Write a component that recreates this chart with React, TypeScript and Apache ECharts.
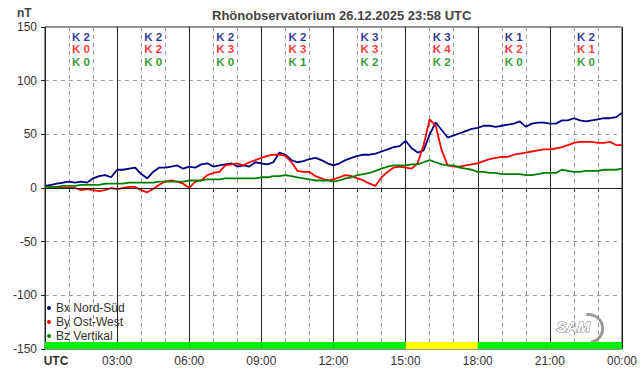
import React, { useEffect, useRef } from "react";
import * as echarts from "echarts";

const chartTitle = "Rhönobservatorium 26.12.2025 23:58 UTC";
const unitLabel = "nT";
const seriesNames = ["Bx Nord-Süd", "By Ost-West", "Bz Vertikal"];
const xTickLabels = ["UTC", "03:00", "06:00", "09:00", "12:00", "15:00", "18:00", "21:00", "00:00"];
const stepHours = 0.25;

// values every 15 minutes, 00:00 .. 24:00 UTC (nT)
const bx = [
  2, 3, 4, 5, 6, 5, 6, 5, 9, 11, 12, 10, 17, 17, 18, 19, 13, 9, 15, 19, 19, 20, 21, 18,
  20, 19, 22, 23, 20, 21, 22, 23, 20, 21, 20, 24,
  23, 22, 24, 33, 31, 26, 24, 25, 27, 28, 26, 23,
  21, 23, 26, 28, 30, 31, 31, 32, 34, 36, 38, 39,
  44, 37, 33, 35, 50, 61, 54, 47, 49, 51, 53, 55,
  56, 58, 58, 57, 58, 59, 60, 62, 57, 60, 61, 61,
  60, 60, 63, 63, 65, 63, 62, 63, 64, 65, 65, 66,
  70,
];
const by = [
  1, 1, 0, 0, 0, 0, -2, -1, -2, -3, -2, 0, -1, 0, 1, 1, -2, -4, -1, 3, 6, 7, 6, 4,
  0, 6, 7, 12, 14, 15, 21, 22, 23, 21, 24, 26,
  28, 30, 31, 31, 30, 24, 16, 15, 15, 11, 9, 7,
  8, 10, 12, 11, 9, 7, 4, 2, 10, 15, 19, 20,
  19, 18, 23, 40, 64, 58, 35, 21, 20, 20, 21, 22,
  23, 25, 27, 28, 29, 29, 31, 32, 33, 34, 35, 36,
  36, 37, 38, 40, 42, 43, 43, 43, 42, 42, 43, 40,
  40,
];
const bz = [
  1, 1, 1, 2, 2, 2, 3, 3, 3, 3, 4, 4, 4, 4, 5, 5, 5, 5, 5, 6, 6, 6, 6, 6,
  7, 7, 7, 8, 8, 8, 9, 9, 9, 9, 9, 9,
  10, 10, 11, 11, 12, 11, 10, 9, 8, 7, 7, 7,
  6, 7, 9, 10, 12, 13, 14, 16, 18, 20, 21, 21,
  21, 22, 22, 24, 26, 24, 22, 21, 21, 19, 18, 17,
  15, 15, 14, 14, 13, 13, 13, 13, 12, 12, 13, 14,
  14, 14, 17, 16, 15, 15, 16, 16, 16, 17, 17, 17,
  18,
];

// K indices per 3-hour block
const kBx = [2, 2, 2, 2, 3, 3, 1, 2];
const kBy = [0, 2, 3, 3, 3, 4, 2, 1];
const kBz = [0, 0, 0, 1, 2, 2, 0, 0];

const COLORS = ["#000080", "#ff0000", "#008000"];
const FONT = "Liberation Sans, Arial, sans-serif";

export default function App() {
  const ref = useRef<HTMLDivElement>(null);

  useEffect(() => {
    if (!ref.current) return;
    const chart = echarts.init(ref.current, null, { renderer: "svg" });
    const times = bx.map((_, i) => i * stepHours);
    const toPairs = (arr: number[]) => arr.map((v, i) => [times[i], v]);
    const kRows = [kBx, kBy, kBz];
    const kRowY = [140.7, 129.5, 117.4];

    const blockColors = kBx.map((_, i) =>
      Math.max(kBx[i], kBy[i], kBz[i]) >= 4 ? "#ffff00" : "#00ee00"
    );

    const lineSeries = [bx, by, bz].map((arr, i) => ({
      name: seriesNames[i],
      type: "line",
      data: toPairs(arr),
      showSymbol: false,
      symbol: "circle",
      color: COLORS[i],
      lineStyle: { color: COLORS[i], width: 1.8 },
      z: 3,
      silent: true,
    }));

    const kSeries = kRows.map((row, r) => ({
      type: "scatter",
      data: row.map((k, i) => [i * 3 + 1.5, kRowY[r], "K " + k]),
      symbolSize: 0,
      silent: true,
      z: 4,
      label: {
        show: true,
        position: "inside",
        formatter: (p: any) => p.value[2],
        color: COLORS[r],
        fontFamily: FONT,
        fontWeight: "bold",
        fontSize: 11.5,
        lineHeight: 11,
      },
    }));

    const helperSeries = {
      type: "scatter",
      data: [[0, 0]],
      symbolSize: 0,
      silent: true,
      z: 1,
      markLine: {
        silent: true,
        symbol: "none",
        label: { show: false },
        lineStyle: { color: "#222", type: "solid", width: 1 },
        data: [{ yAxis: 0 }],
      },
      markArea: {
        silent: true,
        data: blockColors.map((c, i) => [
          { xAxis: i * 3, yAxis: -150, itemStyle: { color: c } },
          { xAxis: i * 3 + 3, yAxis: -143.5 },
        ]),
      },
    };

    chart.setOption({
      animation: false,
      backgroundColor: "#ffffff",
      textStyle: { fontFamily: FONT },
      title: {
        text: chartTitle,
        left: 207,
        top: 4,
        textStyle: { fontFamily: FONT, fontSize: 13, fontWeight: "bold", color: "#444" },
      },
      legend: {
        data: seriesNames,
        orient: "vertical",
        left: 47,
        top: 302,
        icon: "circle",
        itemWidth: 4,
        itemHeight: 4,
        itemGap: 2,
        padding: 0,
        selectedMode: false,
        textStyle: { fontFamily: FONT, fontSize: 12, color: "#333", lineHeight: 12 },
      },
      grid: {
        left: 45,
        right: 20,
        top: 27,
        bottom: 27,
        show: true,
        borderColor: "#222",
        borderWidth: 1,
        backgroundColor: "transparent",
      },
      xAxis: [
        {
          type: "value",
          min: 0,
          max: 24,
          interval: 1,
          axisLine: { show: true, lineStyle: { color: "#222" } },
          axisTick: { show: true, length: 4, lineStyle: { color: "#222" } },
          axisLabel: {
            margin: 6,
            showMinLabel: true,
            showMaxLabel: true,
            color: "#333",
            fontSize: 12,
            fontFamily: FONT,
            formatter: (v: number) => {
              if (v % 3 !== 0) return "";
              const t = xTickLabels[v / 3];
              return v === 0 ? "{u|" + t + "}" : t;
            },
            rich: {
              u: { fontWeight: "bold", fontSize: 12, color: "#333", fontFamily: FONT, padding: [0, 0, 0, 22] },
            },
          },
          splitLine: { show: true, lineStyle: { color: "#999", type: [4, 4], width: 1 } },
        },
        {
          type: "value",
          min: 0,
          max: 24,
          interval: 3,
          position: "bottom",
          axisLine: { show: false },
          axisTick: { show: false },
          axisLabel: { show: false },
          splitLine: { show: true, lineStyle: { color: "#222", type: "solid", width: 1 } },
        },
      ],
      yAxis: {
        type: "value",
        min: -150,
        max: 150,
        interval: 50,
        axisLine: { show: true, lineStyle: { color: "#222" } },
        axisTick: { show: true, length: 4, lineStyle: { color: "#222" } },
        axisLabel: { margin: 8, color: "#333", fontSize: 12, fontFamily: FONT },
        splitLine: { show: true, lineStyle: { color: "#999", type: [4, 4], width: 1 } },
      },
      graphic: [
        {
          type: "text",
          left: 17,
          top: 7,
          style: { text: unitLabel, fill: "#444", font: "bold 12px " + FONT },
          silent: true,
        },
        {
          type: "group",
          left: 556,
          top: 312,
          silent: true,
          children: [
            {
              type: "arc",
              shape: { cx: 34, cy: 17, r: 14, startAngle: -Math.PI * 0.55, endAngle: Math.PI * 0.45 },
              style: { stroke: "#9a9a9a", lineWidth: 3, fill: "none" },
            },
            {
              type: "text",
              x: 2,
              y: 7,
              style: {
                text: "SAM",
                fill: "#ffffff",
                stroke: "#888",
                lineWidth: 1.2,
                font: "italic bold 15px " + FONT,
              },
            },
          ],
        },
      ],
      series: [helperSeries, ...lineSeries, ...kSeries],
    });

    return () => chart.dispose();
  }, []);

  return (
    <div
      ref={ref}
      style={{ position: "fixed", left: 0, top: 0, width: 642, height: 376, background: "#fff" }}
    />
  );
}
